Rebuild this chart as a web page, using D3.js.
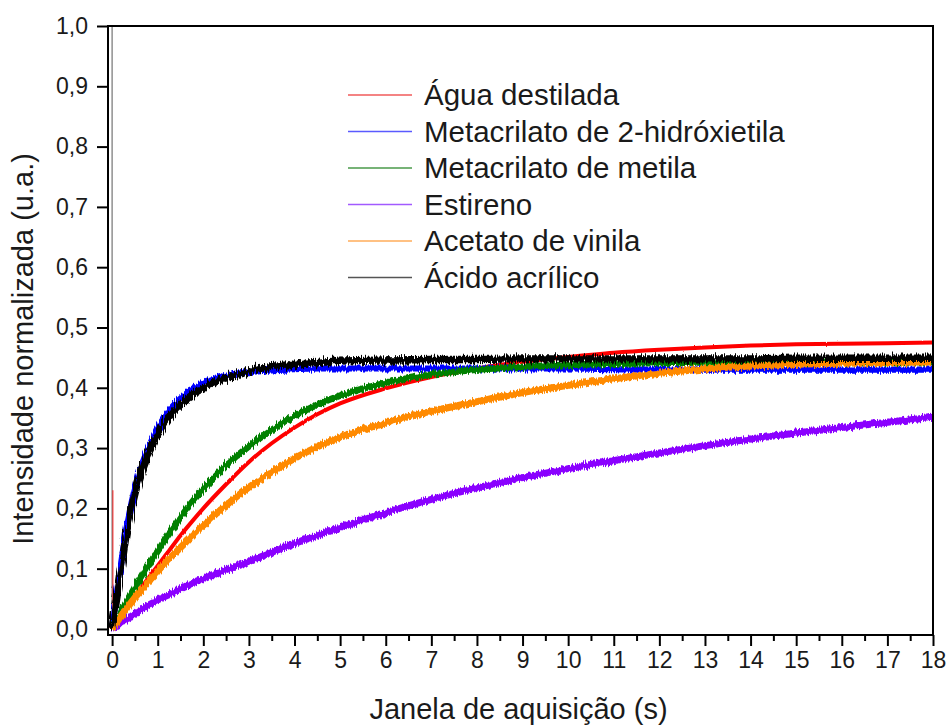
<!DOCTYPE html>
<html>
<head>
<meta charset="utf-8">
<script src="https://cdn.jsdelivr.net/npm/d3@7"></script>
<style>
  html, body { margin: 0; padding: 0; background: #fff; }
  svg { display: block; font-family: "Liberation Sans", Arial, sans-serif; }
</style>
</head>
<body>
<svg id="chart" width="949" height="725"></svg>
<script>
// Acquisition time (s)
const time = [0, 0.1, 0.2, 0.3, 0.4, 0.5, 0.6, 0.75, 1, 1.25, 1.5, 1.75, 2, 2.5, 3, 3.5, 4, 4.5, 5,
              6, 7, 8, 9, 10, 11, 12, 13, 14, 15, 16, 17, 18];

// Normalized intensity (u.a.) for each medium
const aguaDestilada = [0, 0.011, 0.022, 0.033, 0.044, 0.055, 0.065, 0.080, 0.105, 0.130, 0.155, 0.178, 0.200, 0.240, 0.277, 0.308, 0.334, 0.356, 0.374,
                       0.399, 0.418, 0.432, 0.443, 0.451, 0.458, 0.463, 0.467, 0.470, 0.472, 0.473, 0.474, 0.475];
const metacrilato2Hidroxietila = [0, 0.057, 0.110, 0.160, 0.200, 0.233, 0.260, 0.292, 0.333, 0.362, 0.382, 0.397, 0.408, 0.420, 0.426, 0.429, 0.431, 0.432, 0.432,
                       0.432, 0.432, 0.432, 0.432, 0.432, 0.431, 0.430, 0.430, 0.430, 0.430, 0.430, 0.430, 0.430];
const metacrilatoMetila = [0, 0.014, 0.028, 0.042, 0.055, 0.068, 0.081, 0.100, 0.129, 0.158, 0.185, 0.210, 0.233, 0.272, 0.303, 0.330, 0.353, 0.372, 0.387,
                       0.408, 0.422, 0.430, 0.435, 0.438, 0.440, 0.441, 0.442, 0.442, 0.443, 0.443, 0.443, 0.443];
const estireno = [0, 0.005, 0.010, 0.015, 0.020, 0.025, 0.030, 0.037, 0.048, 0.057, 0.066, 0.075, 0.083, 0.098, 0.112, 0.127, 0.142, 0.155, 0.168,
                       0.193, 0.215, 0.234, 0.251, 0.266, 0.279, 0.292, 0.304, 0.315, 0.325, 0.334, 0.343, 0.351];
const acetatoVinila = [0, 0.011, 0.022, 0.032, 0.042, 0.052, 0.061, 0.074, 0.096, 0.116, 0.135, 0.154, 0.172, 0.205, 0.235, 0.260, 0.283, 0.302, 0.318,
                       0.342, 0.361, 0.377, 0.392, 0.404, 0.415, 0.424, 0.431, 0.436, 0.439, 0.441, 0.442, 0.443];
const acidoAcrilico = [0, 0.050, 0.100, 0.152, 0.190, 0.224, 0.252, 0.283, 0.323, 0.352, 0.372, 0.388, 0.400, 0.416, 0.428, 0.435, 0.439, 0.442, 0.444,
                       0.446, 0.447, 0.447, 0.448, 0.448, 0.448, 0.448, 0.448, 0.448, 0.449, 0.449, 0.449, 0.449];

// First recorded sample (t = 0) before the decay trace starts
const firstSample = { agua: 0.23, acido: 1.0 };

const seriesNames = ["Água destilada", "Metacrilato de 2-hidróxietila", "Metacrilato de metila",
                     "Estireno", "Acetato de vinila", "Ácido acrílico"];
const seriesValues = [aguaDestilada, metacrilato2Hidroxietila, metacrilatoMetila, estireno, acetatoVinila, acidoAcrilico];
const seriesColors = ["#ff0000", "#0000ff", "#008000", "#8a00ff", "#ff8a00", "#000000"];
const legendColors = ["#f05a5a", "#5a5aff", "#4a9a4a", "#a25aff", "#ffad5a", "#555555"];
const seriesWidths = [4, 6.2, 6.6, 7, 7, 7.4];
const seriesNoise = [2, 6, 6, 6, 6, 10];

const xTicks = d3.range(0, 19, 1);
const xMinorTicks = d3.range(0.5, 18, 1);
const yTicks = d3.range(0, 11).map(i => i / 10);

const fmtY = d => d3.format(".1f")(d).replace(".", ",");

const svg = d3.select("#chart");
const plotLeft = 108, plotRight = 933, plotTop = 26, plotBottom = 635;

const x = d3.scaleLinear().domain([-0.09, 18]).range([plotLeft, plotRight]);
const y = d3.scaleLinear().domain([-0.01, 1.0]).range([plotBottom, plotTop]);

// Noise filters: jagged band look of the measured traces
const defs = svg.append("defs");
seriesNoise.forEach((s, i) => {
  const f = defs.append("filter")
    .attr("id", "noise" + i)
    .attr("filterUnits", "userSpaceOnUse")
    .attr("x", 0).attr("y", 0).attr("width", 949).attr("height", 725);
  f.append("feTurbulence")
    .attr("type", "fractalNoise")
    .attr("baseFrequency", "0.9 0.02")
    .attr("numOctaves", 2)
    .attr("seed", 3 + i)
    .attr("result", "t");
  f.append("feDisplacementMap")
    .attr("in", "SourceGraphic")
    .attr("in2", "t")
    .attr("scale", s)
    .attr("xChannelSelector", "R")
    .attr("yChannelSelector", "G");
});

const clip = defs.append("clipPath").attr("id", "plotClip");
clip.append("rect").attr("x", plotLeft).attr("y", plotTop)
  .attr("width", plotRight - plotLeft).attr("height", plotBottom - plotTop);

// Traces
const line = d3.line()
  .x((d, i) => x(time[i]))
  .y(d => y(d))
  .curve(d3.curveMonotoneX);

const plot = svg.append("g").attr("clip-path", "url(#plotClip)");

// initial spikes at t = 0
plot.append("line")
  .attr("x1", x(0)).attr("x2", x(0))
  .attr("y1", y(0)).attr("y2", y(firstSample.acido))
  .attr("stroke", "#000").attr("stroke-opacity", 0.55).attr("stroke-width", 1.2);
plot.append("line")
  .attr("x1", x(0) + 0.8).attr("x2", x(0) + 0.8)
  .attr("y1", y(0)).attr("y2", y(firstSample.agua))
  .attr("stroke", "#ff0000").attr("stroke-opacity", 0.7).attr("stroke-width", 1.2);

seriesValues.forEach((vals, i) => {
  plot.append("g").attr("filter", `url(#noise${i})`)
    .append("path")
    .datum(vals)
    .attr("fill", "none")
    .attr("stroke", seriesColors[i])
    .attr("stroke-width", seriesWidths[i])
    .attr("stroke-linejoin", "round")
    .attr("d", line);
});

// Axes
const xAxis = d3.axisBottom(x).tickValues(xTicks).tickFormat(d3.format("d")).tickSizeInner(11).tickSizeOuter(0).tickPadding(6);
const gx = svg.append("g").attr("transform", `translate(0,${plotBottom})`).call(xAxis);
gx.select(".domain").remove();
gx.selectAll(".tick line").attr("stroke", "#000").attr("stroke-width", 2);
gx.selectAll(".tick text").attr("font-size", 23).attr("fill", "#1a1a1a")
  .attr("font-family", '"Liberation Sans", Arial, sans-serif');

const xMinor = d3.axisBottom(x).tickValues(xMinorTicks).tickFormat("").tickSizeInner(6).tickSizeOuter(0);
const gxm = svg.append("g").attr("transform", `translate(0,${plotBottom})`).call(xMinor);
gxm.select(".domain").remove();
gxm.selectAll(".tick line").attr("stroke", "#000").attr("stroke-width", 2);

const yAxis = d3.axisLeft(y).tickValues(yTicks).tickFormat(fmtY).tickSizeInner(11).tickSizeOuter(0).tickPadding(9);
const gy = svg.append("g").attr("transform", `translate(${plotLeft},0)`).call(yAxis);
gy.select(".domain").remove();
gy.selectAll(".tick line").attr("stroke", "#000").attr("stroke-width", 2);
gy.selectAll(".tick text").attr("font-size", 23).attr("fill", "#1a1a1a")
  .attr("font-family", '"Liberation Sans", Arial, sans-serif');

// Frame
svg.append("rect")
  .attr("x", plotLeft).attr("y", plotTop)
  .attr("width", plotRight - plotLeft).attr("height", plotBottom - plotTop)
  .attr("fill", "none").attr("stroke", "#000").attr("stroke-width", 2);

// Axis titles
svg.append("text")
  .attr("x", (plotLeft + plotRight) / 2 - 2).attr("y", 719)
  .attr("text-anchor", "middle").attr("font-size", 29).attr("fill", "#1a1a1a")
  .text("Janela de aquisição (s)");
svg.append("text")
  .attr("transform", "translate(33,349) rotate(-90)")
  .attr("text-anchor", "middle").attr("font-size", 29).attr("fill", "#1a1a1a")
  .text("Intensidade normalizada (u.a.)");

// Legend
const legend = svg.append("g").attr("transform", "translate(348,95)");
seriesNames.forEach((name, i) => {
  const row = legend.append("g").attr("transform", `translate(0,${i * 36.5})`);
  row.append("line").attr("x1", 0).attr("x2", 64).attr("y1", 0).attr("y2", 0)
    .attr("stroke", legendColors[i]).attr("stroke-width", 1.3);
  row.append("text").attr("x", 76).attr("y", 10)
    .attr("font-size", 29.5).attr("fill", "#1a1a1a").text(name);
});
</script>
</body>
</html>
